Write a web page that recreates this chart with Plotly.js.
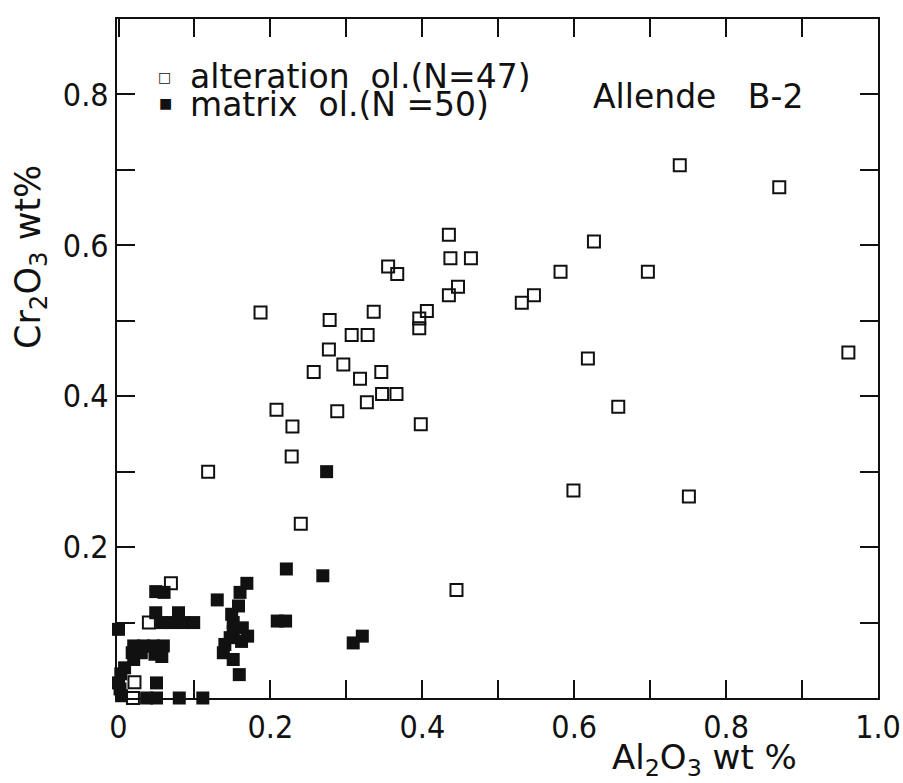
<!DOCTYPE html>
<html>
<head>
<meta charset="utf-8">
<script src="https://cdn.plot.ly/plotly-3.0.1.min.js"></script>
<style>html,body{margin:0;padding:0;background:#fff;}#chart{width:903px;height:783px;}</style>
</head>
<body>
<div id="chart"></div>
<script>
// Alteration olivine (open squares), N=47
const altAl2O3 = [0.118,0.187,0.278,0.336,0.355,0.367,0.437,0.464,0.435,0.447,
                  0.435,0.406,0.396,0.396,0.307,0.328,0.277,0.296,0.257,0.318,
                  0.346,0.347,0.366,0.327,0.208,0.288,0.229,0.398,0.228,0.240,
                  0.739,0.870,0.961,0.626,0.582,0.697,0.547,0.531,0.618,0.658,
                  0.599,0.751,0.445,0.069,0.040,0.021,0.019];
const altCr2O3 = [0.300,0.511,0.501,0.512,0.572,0.562,0.583,0.583,0.614,0.545,
                  0.534,0.513,0.503,0.490,0.481,0.481,0.462,0.442,0.432,0.423,
                  0.432,0.403,0.403,0.392,0.382,0.380,0.360,0.363,0.320,0.231,
                  0.706,0.677,0.458,0.605,0.565,0.565,0.534,0.524,0.450,0.386,
                  0.275,0.267,0.143,0.152,0.100,0.021,0.000];
// Matrix olivine (filled squares), N=50
const matAl2O3 = [0.000,0.000,0.002,0.004,0.008,0.020,0.018,0.020,0.033,0.046,
                  0.059,0.048,0.030,0.050,0.037,0.050,0.080,0.111,0.049,0.060,
                  0.049,0.079,0.057,0.070,0.085,0.099,0.169,0.160,0.130,0.149,
                  0.151,0.151,0.163,0.170,0.140,0.138,0.151,0.159,0.147,0.162,
                  0.221,0.269,0.209,0.220,0.309,0.321,0.274,0.057,0.003,0.158];
const matCr2O3 = [0.091,0.020,0.012,0.003,0.040,0.051,0.060,0.069,0.069,0.069,
                  0.069,0.058,0.060,0.020,0.000,0.000,0.000,0.000,0.141,0.140,
                  0.113,0.113,0.100,0.100,0.100,0.100,0.152,0.140,0.130,0.111,
                  0.100,0.088,0.093,0.082,0.071,0.060,0.051,0.031,0.080,0.075,
                  0.171,0.162,0.102,0.102,0.073,0.082,0.300,0.055,0.032,0.122];

const xTickVals = [0,0.1,0.2,0.3,0.4,0.5,0.6,0.7,0.8,0.9,1.0];
const xTickText = ["0","","0.2","","0.4","","0.6","","0.8","","1.0"];
const yTickVals = [0,0.1,0.2,0.3,0.4,0.5,0.6,0.7,0.8];
const yTickText = ["","","0.2","","0.4","","0.6","","0.8"];

const FONT_NARROW = '"DejaVu Sans Condensed", "DejaVu Sans", "Liberation Sans", sans-serif';
const FONT = '"DejaVu Sans", "Liberation Sans", sans-serif';
const L = 117, R = 25, T = 19, B = 85;
const W = 903 - L - R, H = 783 - T - B;
const px = v => (v - L) / W;
const py = v => (T + H - v) / H;

const traces = [
  {x: altAl2O3, y: altCr2O3, type: 'scatter', mode: 'markers', name: 'alteration ol.',
   marker: {symbol: 'square-open', size: 12, color: '#111', line: {color: '#111', width: 2}},
   showlegend: false, cliponaxis: false},
  {x: matAl2O3, y: matCr2O3, type: 'scatter', mode: 'markers', name: 'matrix ol.',
   marker: {symbol: 'square', size: 13, color: '#111', line: {width: 0}},
   showlegend: false, cliponaxis: false}
];

const axisCommon = {
  showgrid: false, zeroline: false, showline: true, linecolor: '#111', linewidth: 2,
  mirror: 'ticks', ticks: 'inside', ticklen: 18, tickwidth: 2, tickcolor: '#111',
  tickmode: 'array', tickfont: {family: FONT_NARROW, size: 32, color: '#111'}
};

const layout = {
  width: 903, height: 783,
  margin: {l: L, r: R, t: T, b: B, pad: 0},
  paper_bgcolor: '#fff', plot_bgcolor: '#fff',
  showlegend: false,
  xaxis: Object.assign({}, axisCommon, {range: [-0.002, 1.0], tickvals: xTickVals, ticktext: xTickText}),
  yaxis: Object.assign({}, axisCommon, {range: [0, 0.9], tickvals: yTickVals, ticktext: yTickText}),
  annotations: [
    {xref: 'paper', yref: 'paper', x: px(164), y: py(77), text: '□', showarrow: false,
     xanchor: 'center', yanchor: 'middle', font: {family: FONT, size: 14, color: '#111'}},
    {xref: 'paper', yref: 'paper', x: px(165), y: py(103), text: '■', showarrow: false,
     xanchor: 'center', yanchor: 'middle', font: {family: FONT, size: 14, color: '#111'}},
    {xref: 'paper', yref: 'paper', x: px(188), y: py(76), text: 'alteration\u00a0\u00a0ol.(N=47)', showarrow: false,
     xanchor: 'left', yanchor: 'middle', font: {family: FONT, size: 33, color: '#111'}},
    {xref: 'paper', yref: 'paper', x: px(188), y: py(104), text: 'matrix\u00a0\u00a0ol.(N\u00a0=50)', showarrow: false,
     xanchor: 'left', yanchor: 'middle', font: {family: FONT, size: 33, color: '#111'}},
    {xref: 'paper', yref: 'paper', x: px(591), y: py(96), text: 'Allende\u00a0\u00a0\u00a0B-2', showarrow: false,
     xanchor: 'left', yanchor: 'middle', font: {family: FONT, size: 33, color: '#111'}},
    {xref: 'paper', yref: 'paper', x: px(799), y: py(760), text: 'Al<sub>2</sub>O<sub>3</sub> wt %', showarrow: false,
     xanchor: 'right', yanchor: 'middle', font: {family: FONT, size: 34, color: '#111'}},
    {xref: 'paper', yref: 'paper', x: px(30), y: py(257), text: 'Cr<sub>2</sub>O<sub>3</sub> wt%', showarrow: false,
     textangle: -90, xanchor: 'center', yanchor: 'middle', font: {family: FONT, size: 35, color: '#111'}}
  ]
};

Plotly.newPlot('chart', traces, layout, {staticPlot: true, displayModeBar: false});
</script>
</body>
</html>
